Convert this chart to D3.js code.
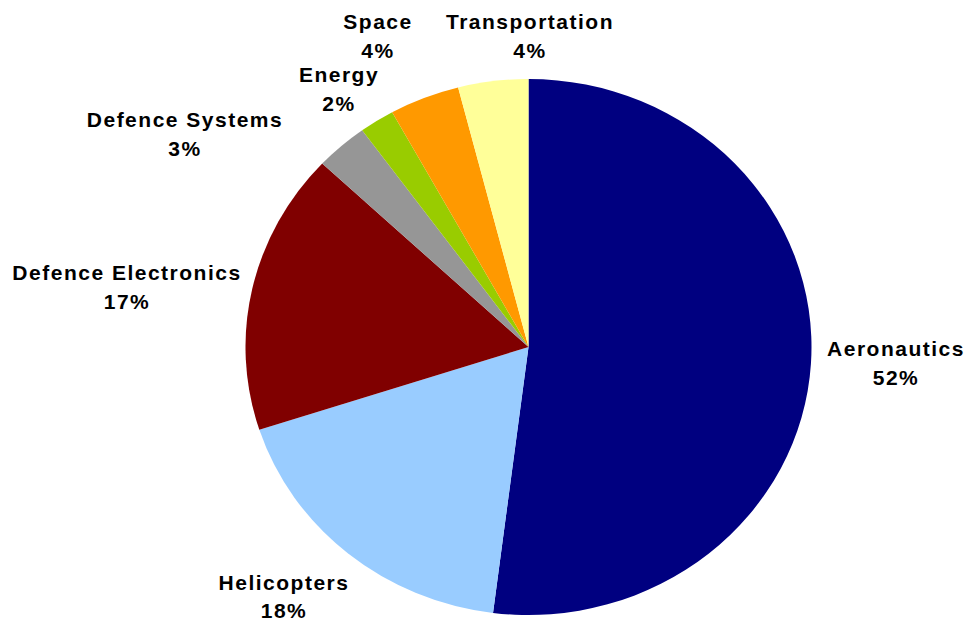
<!DOCTYPE html>
<html>
<head>
<meta charset="utf-8">
<script src="https://cdn.jsdelivr.net/npm/d3@7"></script>
<style>
  html, body { margin: 0; padding: 0; background: #fff; }
  svg { display: block; }
  .lbl { font-family: "Liberation Sans", Arial, sans-serif; font-weight: bold; font-size: 21px; letter-spacing: 1.5px; fill: #000; }
</style>
</head>
<body>
<script>
// Revenue share by business segment
const categories = ["Aeronautics", "Helicopters", "Defence Electronics", "Defence Systems", "Energy", "Space", "Transportation"];
const shares = [52, 18, 17, 3, 2, 4, 4];
const colors = ["#000080", "#99CCFF", "#800000", "#969696", "#99CC00", "#FF9900", "#FFFF99"];
// label anchor (centre x, first baseline y, line gap) per segment
const labelPos = [[896, 356, 29], [284, 590, 28], [127, 280, 29], [185, 127, 29], [339, 82, 29], [378, 29, 29], [530, 29, 29]];

const W = 969, H = 623;
const cx = 528.5, cy = 347, r = 268, sx = 1.056;

const svg = d3.select("body").append("svg").attr("width", W).attr("height", H);

const pie = d3.pie().sort(null).value(d => d).startAngle(0).endAngle(2 * Math.PI);
const arc = d3.arc().innerRadius(0).outerRadius(r);

const g = svg.append("g").attr("transform", `translate(${cx},${cy}) scale(${sx},1)`);
g.selectAll("path")
  .data(pie(shares))
  .join("path")
  .attr("d", arc)
  .attr("fill", (d, i) => colors[i]);

const labels = svg.append("g");
categories.forEach((c, i) => {
  const [x, y, gap] = labelPos[i];
  const t = labels.append("text").attr("class", "lbl").attr("text-anchor", "middle");
  t.append("tspan").attr("x", x).attr("y", y).text(c);
  t.append("tspan").attr("x", x).attr("y", y + gap).text(shares[i] + "%");
});
</script>
</body>
</html>
